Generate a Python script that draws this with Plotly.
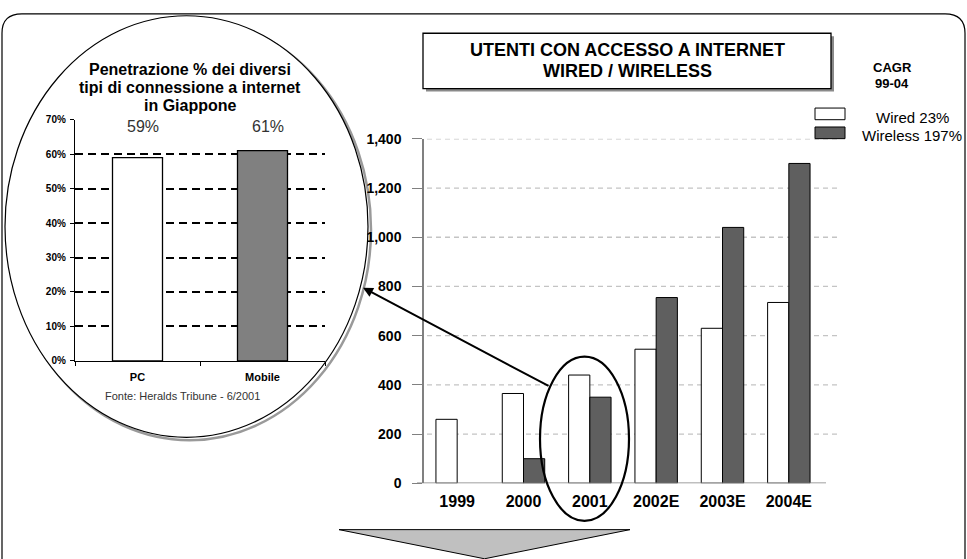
import plotly.graph_objects as go

# ---------------- data ----------------
years = ["1999", "2000", "2001", "2002E", "2003E", "2004E"]
wired = [260, 365, 440, 545, 630, 735]
wireless = [None, 100, 350, 755, 1040, 1300]
series_names = ["Wired", "Wireless"]
cagr = ["23%", "197%"]
y_ticks = [0, 200, 400, 600, 800, 1000, 1200, 1400]

inset_cats = ["PC", "Mobile"]
inset_vals = [59, 61]
inset_ticks = [0, 10, 20, 30, 40, 50, 60, 70]

title_lines = ["UTENTI CON ACCESSO A INTERNET", "WIRED / WIRELESS"]
cagr_lines = ["CAGR", "99-04"]
inset_title = ["Penetrazione % dei diversi", "tipi di connessione a internet", "in Giappone"]
source = "Fonte: Heralds Tribune - 6/2001"

# ---------------- layout helpers ----------------
W, H = 967, 559
FONT = "Arial, Liberation Sans, sans-serif"


def fx(p):
    return p / W


def fy(p):
    return 1 - p / H


WIRED_C = "#ffffff"
WIRELESS_C = "#5f5f5f"
MOBILE_C = "#808080"

fig = go.Figure()

fig.add_trace(go.Bar(x=years, y=wired, name=series_names[0],
                     marker=dict(color=WIRED_C, line=dict(color="#000000", width=1)),
                     xaxis="x", yaxis="y", showlegend=False))
fig.add_trace(go.Bar(x=years, y=wireless, name=series_names[1],
                     marker=dict(color=WIRELESS_C, line=dict(color="#000000", width=1)),
                     xaxis="x", yaxis="y", showlegend=False))
fig.add_trace(go.Bar(x=inset_cats, y=inset_vals, width=0.4,
                     marker=dict(color=[WIRED_C, MOBILE_C], line=dict(color="#000000", width=1.3)),
                     xaxis="x2", yaxis="y2", showlegend=False))

shapes = []
# outer rounded frame
r = 20
x0, y0, x1, y1 = 2, 6, 965, 580
path = (f"M {fx(x0+r)},{fy(y0)} L {fx(x1-r)},{fy(y0)} Q {fx(x1)},{fy(y0)} {fx(x1)},{fy(y0+r)} "
        f"L {fx(x1)},{fy(y1)} L {fx(x0)},{fy(y1)} L {fx(x0)},{fy(y0+r)} Q {fx(x0)},{fy(y0)} {fx(x0+r)},{fy(y0)} Z")
shapes.append(dict(type="path", path=path, xref="paper", yref="paper",
                   line=dict(color="#000000", width=1.2), layer="below"))
# inset ellipse shadow + ellipse
shapes.append(dict(type="circle", xref="paper", yref="paper",
                   x0=fx(8), x1=fx(371), y0=fy(11), y1=fy(445),
                   line=dict(color="#9a9a9a", width=2.5), fillcolor="#ffffff", layer="below"))
shapes.append(dict(type="circle", xref="paper", yref="paper",
                   x0=fx(5), x1=fx(368), y0=fy(8), y1=fy(442),
                   line=dict(color="#000000", width=1.2), fillcolor="#ffffff", layer="below"))
# title box shadow + box
shapes.append(dict(type="rect", xref="paper", yref="paper",
                   x0=fx(426), x1=fx(834), y0=fy(29), y1=fy(86),
                   line=dict(width=0), fillcolor="#8a8a8a", layer="below"))
shapes.append(dict(type="rect", xref="paper", yref="paper",
                   x0=fx(423), x1=fx(831), y0=fy(26), y1=fy(83),
                   line=dict(color="#000000", width=1.3), fillcolor="#ffffff", layer="below"))
# main gridlines (extend past plot area like the original)
for v in y_ticks[1:]:
    shapes.append(dict(type="line", xref="paper", yref="y", x0=fx(427), x1=fx(837), y0=v, y1=v,
                       line=dict(color="#c4c4c4", width=1.3, dash="5px,4px"), layer="below"))
# main x axis line
shapes.append(dict(type="line", xref="paper", yref="y", x0=fx(417), x1=fx(826), y0=0, y1=0,
                   line=dict(color="#808080", width=1.5), layer="above"))
# legend swatches
shapes.append(dict(type="rect", xref="paper", yref="paper", x0=fx(815), x1=fx(845), y0=fy(103), y1=fy(115),
                   line=dict(color="#000000", width=1), fillcolor=WIRED_C))
shapes.append(dict(type="rect", xref="paper", yref="paper", x0=fx(815), x1=fx(845), y0=fy(122.5), y1=fy(134.5),
                   line=dict(color="#000000", width=1), fillcolor=WIRELESS_C))
# ellipse around 2001
shapes.append(dict(type="circle", xref="paper", yref="paper",
                   x0=fx(540), x1=fx(629), y0=fy(359), y1=fy(528),
                   line=dict(color="#000000", width=2.2), layer="above"))
# bottom gray arrow
tri = f"M {fx(339)},{fy(537)} L {fx(630)},{fy(537)} L {fx(484.5)},{fy(567)} Z"
shapes.append(dict(type="path", path=tri, xref="paper", yref="paper",
                   line=dict(color="#000000", width=1), fillcolor="#c0c0c0"))

annotations = []
# title
for i, t in enumerate(title_lines):
    annotations.append(dict(text=t, x=fx(627), y=fy(43.5 + 21 * i), xref="paper", yref="paper",
                            showarrow=False, xanchor="center", yanchor="middle",
                            font=dict(family=FONT, size=18, color="#000000", weight="bold")))
# CAGR
for i, t in enumerate(cagr_lines):
    annotations.append(dict(text=t, x=fx(892), y=fy(61 + 17 * i), xref="paper", yref="paper",
                            showarrow=False, xanchor="center", yanchor="middle",
                            font=dict(family=FONT, size=13, color="#000000", weight="bold")))
# legend labels
for i, (n, c) in enumerate(zip(series_names, cagr)):
    annotations.append(dict(text=f"{n} {c}", x=fx(912), y=fy(113 + 18.7 * i), xref="paper", yref="paper",
                            showarrow=False, xanchor="center", yanchor="middle",
                            font=dict(family=FONT, size=15, color="#000000")))
# inset title
for i, t in enumerate(inset_title):
    annotations.append(dict(text=t, x=fx(190), y=fy(63.3 + 18.3 * i), xref="paper", yref="paper",
                            showarrow=False, xanchor="center", yanchor="middle",
                            font=dict(family=FONT, size=16, color="#000000", weight="bold")))
# inset value labels
for c, v in zip(inset_cats, inset_vals):
    annotations.append(dict(text=f"{v}%", x=c, y=68.1, xref="x2", yref="y2", xshift=5,
                            showarrow=False, xanchor="center", yanchor="middle",
                            font=dict(family=FONT, size=16, color="#333333")))
# source
annotations.append(dict(text=source, x=fx(182), y=fy(399), xref="paper", yref="paper",
                        showarrow=False, xanchor="center", yanchor="middle",
                        font=dict(family=FONT, size=11, color="#333333")))
# connecting arrow
annotations.append(dict(text="", x=fx(363), y=fy(288), xref="paper", yref="paper",
                        showarrow=True, ax=187, ay=99, arrowhead=2, arrowsize=1,
                        arrowwidth=2, arrowcolor="#000000", standoff=0))

fig.update_layout(
    width=W, height=H,
    margin=dict(l=0, r=0, t=0, b=0),
    paper_bgcolor="#ffffff",
    plot_bgcolor="rgba(0,0,0,0)",
    barmode="group", bargap=0.36, bargroupgap=0,
    shapes=shapes, annotations=annotations,
    font=dict(family=FONT, color="#000000"),
    xaxis=dict(domain=[fx(424), fx(822)], anchor="y", range=[-0.5, 5.5], type="category",
               showline=False, ticks="", showgrid=False, zeroline=False,
               tickfont=dict(family=FONT, size=16, color="#000000", weight="bold"),
               ticklabelstandoff=7),
    yaxis=dict(domain=[fy(489.3), fy(134.7)], anchor="x", range=[0, 1400],
               tickvals=y_ticks, tickformat=",",
               showline=True, linecolor="#808080", linewidth=1.5,
               ticks="outside", ticklen=10, tickcolor="#808080", tickwidth=1.2,
               showgrid=False, zeroline=False,
               tickfont=dict(family=FONT, size=14, color="#000000", weight="bold"),
               ticklabelstandoff=8),
    xaxis2=dict(domain=[fx(75), fx(325)], anchor="y2", range=[-0.5, 1.5], type="category",
                showline=True, linecolor="#000000", linewidth=1.3,
                ticks="outside", tickson="boundaries", ticklen=4, tickcolor="#000000",
                showgrid=False, zeroline=False,
                tickfont=dict(family=FONT, size=11, color="#000000", weight="bold"),
                ticklabelstandoff=6),
    yaxis2=dict(domain=[fy(363.3), fy(115)], anchor="x2", range=[0, 70],
                tickmode="array", tickvals=inset_ticks,
                ticktext=[f"{v}%" for v in inset_ticks],
                showline=True, linecolor="#000000", linewidth=1.3,
                ticks="outside", ticklen=4, tickcolor="#000000",
                showgrid=True, gridcolor="#000000", gridwidth=1.6, griddash="8px,5px",
                zeroline=False,
                tickfont=dict(family=FONT, size=10, color="#000000", weight="bold"),
                ticklabelstandoff=2),
)

fig.write_html("out.html", config={"displayModeBar": False},
               post_script="document.body.style.margin='0';document.body.style.overflow='hidden';")
